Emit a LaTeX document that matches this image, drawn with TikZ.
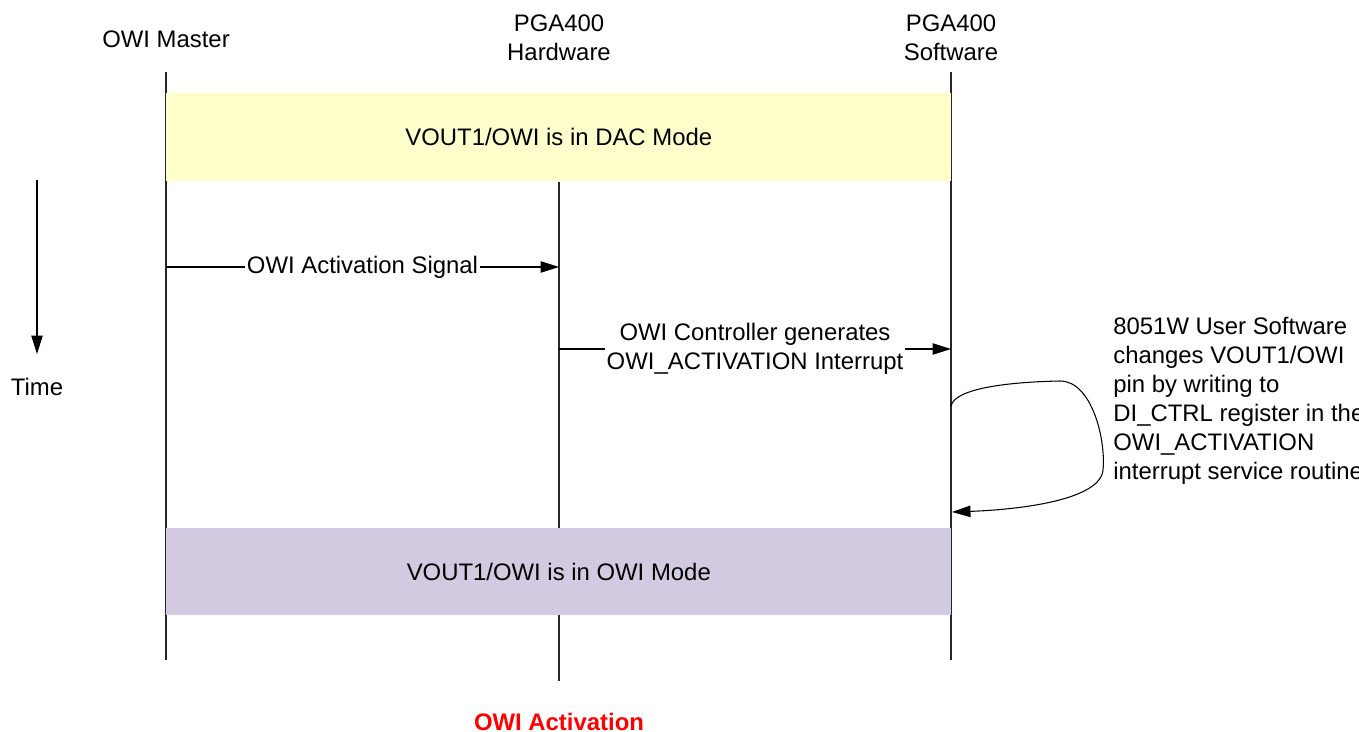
\documentclass[tikz,border=0pt]{standalone}
\usepackage{fontspec}
\setmainfont{Liberation Sans}
\usepackage[svgnames]{xcolor}
\usetikzlibrary{arrows.meta,positioning}

\definecolor{dacyellow}{RGB}{255,255,204}
\definecolor{owililac}{RGB}{210,202,224}

\begin{document}
\begin{tikzpicture}[x=0.02cm,y=-0.02cm,
  every node/.style={font=\fontsize{13.6}{16.5}\selectfont},
  life/.style={line width=0.6pt,black!85},
  msg/.style={line width=0.6pt,-{Triangle[length=10.5pt,width=6.5pt]}},
  msglabel/.style={fill=white,inner sep=1pt,align=center},
  modebox/.style={anchor=north west,minimum width=15.7cm,inner sep=0pt}]
\useasboundingbox (0,0) rectangle (1359,732);

% headers
\node (master) at (166,39) {OWI Master};
\node[align=center] (hw) at (559,38) {PGA400\\Hardware};
\node[align=center] (sw) at (951,38) {PGA400\\Software};

% lifelines
\coordinate (masterTop) at (166,72);
\coordinate (masterEnd) at (166,660);
\coordinate (hwTop) at (559,182);
\coordinate (hwEnd) at (559,681);
\coordinate (swTop) at (951,72);
\coordinate (swEnd) at (951,660);
\draw[life] (masterTop) -- (masterEnd);
\draw[life] (hwTop) -- (hwEnd);
\draw[life] (swTop) -- (swEnd);

% mode boxes
\node[modebox,fill=dacyellow,minimum height=1.76cm] (dac) at (166,93) {VOUT1/OWI is in DAC Mode};
\node[modebox,fill=owililac,minimum height=1.74cm] (owi) at (166,528) {VOUT1/OWI is in OWI Mode};

% time axis
\coordinate (timeTop) at (37,180);
\coordinate (timeEnd) at (37,354);
\draw[msg] (timeTop) -- (timeEnd);
\node (time) at (37,387) {Time};

% messages
\coordinate (sigStart) at (166,267);
\coordinate (sigEnd) at (559,267);
\draw[msg] (sigStart) -- node[msglabel] (sig) {OWI Activation Signal} (sigEnd);

\coordinate (irqStart) at (559,349);
\coordinate (irqEnd) at (951,349);
\draw[msg] (irqStart) -- node[msglabel] (irq) {OWI Controller generates\\OWI\_ACTIVATION Interrupt} (irqEnd);

% self call of the software
\coordinate (loopStart) at (951,406);
\coordinate (loopEnd) at (952,512);
\draw[msg] (loopStart) .. controls (955,388) and (1010,382) .. (1060,381)
  .. controls (1092,381) and (1106,440) .. (1103,470)
  .. controls (1100,502) and (1010,510) .. (loopEnd);
\node[anchor=north west,align=left,inner sep=0pt] (isr) at (1113,317)
  {8051W User Software\\changes VOUT1/OWI\\pin by writing to\\DI\_CTRL register in the\\OWI\_ACTIVATION\\interrupt service routine};

% caption
\node[text=red,font=\fontsize{13.6}{16.5}\selectfont\bfseries] (title) at (559,722) {OWI Activation};
\end{tikzpicture}
\end{document}
